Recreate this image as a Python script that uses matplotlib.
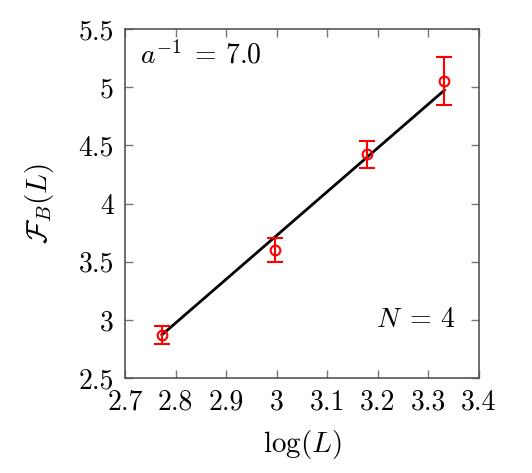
import numpy as np
import matplotlib
matplotlib.use('Agg')
import matplotlib.pyplot as plt
from matplotlib.ticker import FuncFormatter

plt.rcParams['font.family'] = 'serif'
plt.rcParams['font.serif'] = ['cmr10']
plt.rcParams['mathtext.fontset'] = 'cm'
plt.rcParams['axes.formatter.use_mathtext'] = True

# data: log(L) for L = 16, 20, 24, 28
logL = [2.773, 2.996, 3.178, 3.332]
FB = [2.871, 3.603, 4.422, 5.052]
FB_err = [0.078, 0.103, 0.115, 0.208]
fit_x = [2.773, 3.332]
fit_y = [2.871, 4.974]

xticks = [2.7, 2.8, 2.9, 3.0, 3.1, 3.2, 3.3, 3.4]
yticks = [2.5, 3.0, 3.5, 4.0, 4.5, 5.0, 5.5]

fig = plt.figure(figsize=(5.32, 4.73), dpi=100)
ax = fig.add_axes([0.235, 0.2008, 0.665, 0.7379])

ax.plot(fit_x, fit_y, color='black', lw=2.0, zorder=2)
ax.errorbar(logL, FB, yerr=FB_err, fmt='o', color='red', mfc='none',
            ms=7, mew=1.5, elinewidth=1.5, capsize=6, capthick=1.5, zorder=3)

ax.set_xlim(2.7, 3.4)
ax.set_ylim(2.5, 5.5)
ax.set_xticks(xticks)
ax.set_yticks(yticks)
fmt = FuncFormatter(lambda v, p: '%g' % round(v, 2))
ax.xaxis.set_major_formatter(fmt)
ax.yaxis.set_major_formatter(fmt)
ax.tick_params(direction='in', length=6, width=1, color='#777777',
               top=True, right=True, labelsize=20, pad=8)
for s in ax.spines.values():
    s.set_color('#555555')
    s.set_linewidth(1.2)

ax.set_xlabel(r'$\log(L)$', fontsize=21, labelpad=9)
ax.set_ylabel(r'$\mathcal{F}_B(L)$', fontsize=21, labelpad=16)

ax.text(0.042, 0.965, r'$a^{-1}\;=\,7.0$', transform=ax.transAxes,
        fontsize=20, ha='left', va='top')
ax.text(0.935, 0.166, r'$N\;=\,4$', transform=ax.transAxes,
        fontsize=20, ha='right', va='center')

fig.savefig('out.png', dpi=100)
